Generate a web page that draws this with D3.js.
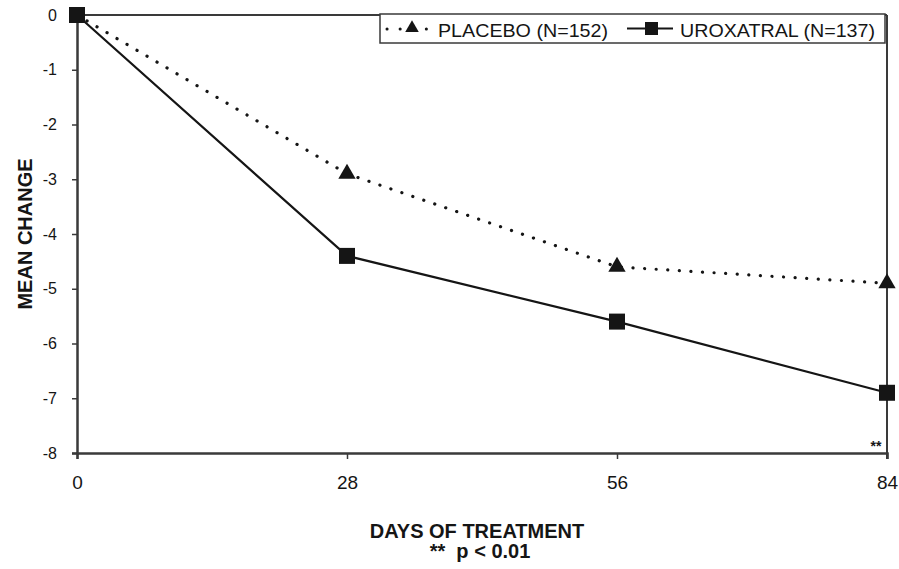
<!DOCTYPE html>
<html><head><meta charset="utf-8">
<script src="https://cdn.jsdelivr.net/npm/d3@7"></script>
<style>body{margin:0;background:#fff;} text{font-family:"Liberation Sans",Arial,sans-serif;}</style>
</head><body>
<svg id="c" width="899" height="569"></svg>
<script>
const days = [0, 28, 56, 84];
const placebo = [0, -2.9, -4.6, -4.9];
const uroxatral = [0, -4.4, -5.6, -6.9];
const yTicks = [0, -1, -2, -3, -4, -5, -6, -7, -8];
const xTicks = [0, 28, 56, 84];
const seriesNames = ["PLACEBO (N=152)", "UROXATRAL (N=137)"];

const svg = d3.select("#c");
const L = 77, R = 887, T = 15, B = 453;
const x = d3.scaleLinear().domain([0, 84]).range([L, R]);
const y = d3.scaleLinear().domain([-8, 0]).range([B, T]);
const ink = "#151515";
const axc = "#3a3a3a";

// frame top and right
svg.append("line").attr("x1", L).attr("x2", R).attr("y1", T).attr("y2", T).attr("stroke", axc).attr("stroke-width", 2);
svg.append("line").attr("x1", R).attr("x2", R).attr("y1", T).attr("y2", B + 6).attr("stroke", axc).attr("stroke-width", 2);

const yAx = svg.append("g").attr("transform", `translate(${L},0)`)
  .call(d3.axisLeft(y).tickValues(yTicks).tickFormat(d => String(d)).tickSize(5).tickPadding(15));
const xAx = svg.append("g").attr("transform", `translate(0,${B})`)
  .call(d3.axisBottom(x).tickValues(xTicks).tickFormat(d => String(d)).tickSize(6).tickPadding(17));
[yAx, xAx].forEach(g => {
  g.select(".domain").attr("stroke", axc).attr("stroke-width", 2.5);
  g.selectAll(".tick line").attr("stroke", axc).attr("stroke-width", 1.5);
  g.selectAll("text").attr("fill", ink).attr("font-family", "Liberation Sans, Arial, sans-serif");
});
yAx.selectAll("text").attr("font-size", 16);
xAx.selectAll("text").attr("font-size", 19);

const line = d3.line().x((d, i) => x(days[i])).y(d => y(d));

svg.append("path").datum(placebo).attr("d", line).attr("fill", "none").attr("stroke", ink)
  .attr("stroke-width", 3.2).attr("stroke-dasharray", "0.1 11.5").attr("stroke-linecap", "round");
svg.append("path").datum(uroxatral).attr("d", line).attr("fill", "none").attr("stroke", ink).attr("stroke-width", 2.2);

const tri = d3.symbol().type(d3.symbolTriangle).size(130);
svg.selectAll(".tri").data(placebo.slice(1)).enter().append("path")
  .attr("d", tri).attr("fill", ink)
  .attr("transform", (d, i) => `translate(${x(days[i + 1])},${y(d)})`);
svg.selectAll(".sq").data(uroxatral).enter().append("rect")
  .attr("x", (d, i) => x(days[i]) - 8).attr("y", d => y(d) - 8)
  .attr("width", 16).attr("height", 16).attr("fill", ink);

// legend
const lg = svg.append("g");
lg.append("rect").attr("x", 380).attr("y", 14).attr("width", 505).attr("height", 29)
  .attr("fill", "#fff").attr("stroke", axc).attr("stroke-width", 1.5);
lg.append("line").attr("x1", 387).attr("x2", 428).attr("y1", 29).attr("y2", 29).attr("stroke", ink)
  .attr("stroke-width", 3).attr("stroke-dasharray", "0.1 13").attr("stroke-linecap", "round");
lg.append("path").attr("d", d3.symbol().type(d3.symbolTriangle).size(80)).attr("fill", ink).attr("transform", "translate(412,28)");
lg.append("text").attr("x", 438).attr("y", 37).attr("font-size", 18.5).attr("fill", ink)
  .attr("textLength", 170).attr("lengthAdjust", "spacingAndGlyphs").text(seriesNames[0]);
lg.append("line").attr("x1", 627).attr("x2", 673).attr("y1", 28.5).attr("y2", 28.5).attr("stroke", ink).attr("stroke-width", 2.2);
lg.append("rect").attr("x", 645).attr("y", 22).attr("width", 13).attr("height", 13).attr("fill", ink);
lg.append("text").attr("x", 680).attr("y", 37).attr("font-size", 18.5).attr("fill", ink)
  .attr("textLength", 195).attr("lengthAdjust", "spacingAndGlyphs").text(seriesNames[1]);

// titles
svg.append("text").attr("transform", "translate(32,234) rotate(-90)").attr("text-anchor", "middle")
  .attr("font-size", 20).attr("font-weight", "bold").attr("fill", ink).text("MEAN CHANGE");
svg.append("text").attr("x", 477).attr("y", 538).attr("text-anchor", "middle")
  .attr("font-size", 20).attr("font-weight", "bold").attr("fill", ink).text("DAYS OF TREATMENT");
svg.append("text").attr("x", 480).attr("y", 558).attr("text-anchor", "middle")
  .attr("font-size", 20).attr("font-weight", "bold").attr("fill", ink).attr("xml:space", "preserve").text("**  p < 0.01");
svg.append("text").attr("x", 876).attr("y", 451).attr("text-anchor", "middle")
  .attr("font-size", 14).attr("font-weight", "bold").attr("fill", ink).text("**");
</script>
</body></html>
